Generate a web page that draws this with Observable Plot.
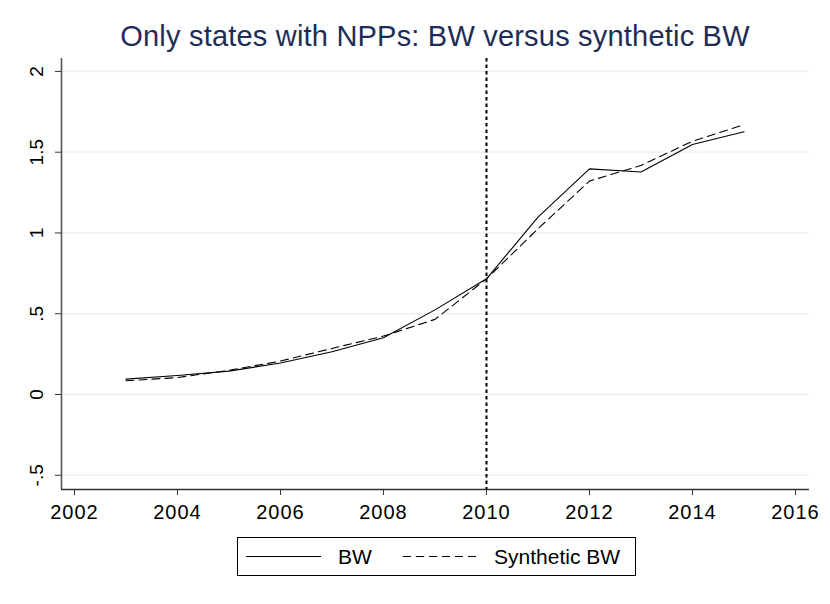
<!DOCTYPE html>
<html>
<head>
<meta charset="utf-8">
<script src="https://cdn.jsdelivr.net/npm/d3@7"></script>
<script src="https://cdn.jsdelivr.net/npm/@observablehq/plot@0.6"></script>
<style>
  html, body { margin: 0; padding: 0; background: #fff; }
  body { width: 830px; height: 604px; overflow: hidden; font-family: "Liberation Sans", Arial, sans-serif; }
  #title { height: 52px; width: 830px; position: relative; }
  #title span { position: absolute; left: 61px; width: 748px; text-align: center; top: 22px; font-size: 29px; letter-spacing: 0.2px; color: #1e2d55; line-height: 1; white-space: nowrap; }
  #legend { position: relative; height: 72px; width: 830px; }
  #legbox { position: absolute; left: 237px; top: 5px; width: 399px; height: 39px; border: 1px solid #000; box-sizing: border-box; }
  #legbox svg { position: absolute; left: 0; top: 0; }
  g[aria-label="x-axis tick label"] text { letter-spacing: 1px; }
</style>
</head>
<body>
<div id="title"><span>Only states with NPPs: BW versus synthetic BW</span></div>
<div id="chart"></div>
<div id="legend"><div id="legbox"></div></div>
<script>
const years = [2003, 2004, 2005, 2006, 2007, 2008, 2009, 2010, 2011, 2012, 2013, 2014, 2015];
const bw = [0.095, 0.118, 0.145, 0.195, 0.265, 0.351, 0.524, 0.716, 1.098, 1.397, 1.377, 1.548, 1.627];
const synthBw = [0.085, 0.105, 0.15, 0.207, 0.285, 0.362, 0.465, 0.716, 1.026, 1.321, 1.418, 1.568, 1.67];
const xTicks = [2002, 2004, 2006, 2008, 2010, 2012, 2014, 2016];
const yTicks = [-0.5, 0, 0.5, 1, 1.5, 2];
const yTickLabels = ["-.5", "0", ".5", "1", "1.5", "2"];
const treatmentYear = 2010;
const seriesNames = ["BW", "Synthetic BW"];

const rows = [];
years.forEach((y, i) => {
  rows.push({year: y, value: bw[i], series: seriesNames[0]});
  rows.push({year: y, value: synthBw[i], series: seriesNames[1]});
});

const xDomain = [2001.748, 2016.272];
const yDomain = [-0.588, 2.08];

const chart = Plot.plot({
  width: 830,
  height: 480,
  marginTop: 6,
  marginBottom: 43,
  marginLeft: 61,
  marginRight: 21,
  style: {fontFamily: "Liberation Sans, Arial, sans-serif", fontSize: "20px", color: "#000", background: "#fff"},
  x: {domain: xDomain, label: null},
  y: {domain: yDomain, label: null},
  marks: [
    Plot.gridY(yTicks, {stroke: "#eaf2f3", strokeOpacity: 1, strokeWidth: 1.6}),
    Plot.ruleX([xDomain[0]], {stroke: "#555", strokeWidth: 1.6}),
    Plot.ruleY([yDomain[0]], {stroke: "#333", strokeWidth: 1.4}),
    Plot.axisX(xTicks, {tickFormat: d => String(d), tickSize: 6, tickPadding: 9, fontSize: 20, stroke: "#333", label: null}),
    Plot.axisY(yTicks, {tickFormat: d => yTickLabels[yTicks.indexOf(d)], tickSize: 6, tickPadding: 13, tickRotate: -90, fontSize: 19, stroke: "#333", label: null}),
    Plot.ruleX([treatmentYear], {stroke: "#000", strokeWidth: 2, strokeDasharray: "3.5,3"}),
    Plot.line(rows.filter(d => d.series === seriesNames[0]), {x: "year", y: "value", stroke: "#000", strokeWidth: 1.1}),
    Plot.line(rows.filter(d => d.series === seriesNames[1]), {x: "year", y: "value", stroke: "#000", strokeWidth: 1.1, strokeDasharray: "8,5"})
  ]
});
document.getElementById("chart").appendChild(chart);

// Legend
const legNS = "http://www.w3.org/2000/svg";
const leg = document.createElementNS(legNS, "svg");
leg.setAttribute("width", 399);
leg.setAttribute("height", 39);
const items = [
  {name: seriesNames[0], x1: 8, x2: 83, tx: 100, dash: null},
  {name: seriesNames[1], x1: 165, x2: 241, tx: 256, dash: "8,5"}
];
items.forEach(it => {
  const l = document.createElementNS(legNS, "line");
  l.setAttribute("x1", it.x1); l.setAttribute("x2", it.x2);
  l.setAttribute("y1", 18.5); l.setAttribute("y2", 18.5);
  l.setAttribute("stroke", "#000"); l.setAttribute("stroke-width", 1.1);
  if (it.dash) l.setAttribute("stroke-dasharray", it.dash);
  leg.appendChild(l);
  const t = document.createElementNS(legNS, "text");
  t.setAttribute("x", it.tx); t.setAttribute("y", 26);
  t.setAttribute("font-size", 21);
  t.setAttribute("font-family", "Liberation Sans, Arial, sans-serif");
  t.textContent = it.name;
  leg.appendChild(t);
});
document.getElementById("legbox").appendChild(leg);
</script>
</body>
</html>
